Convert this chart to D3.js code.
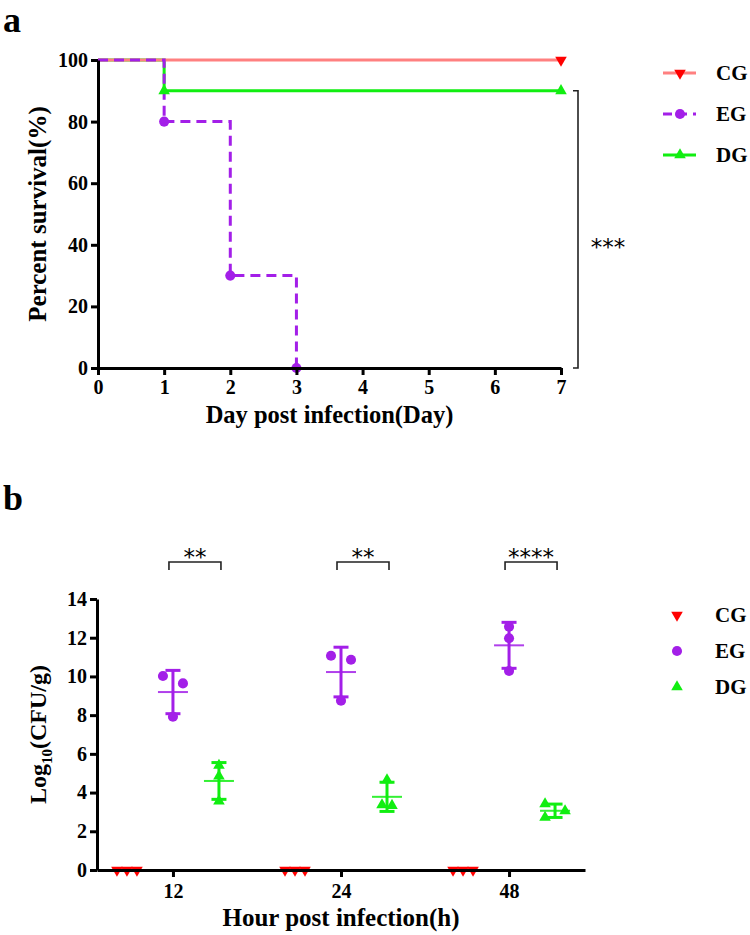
<!DOCTYPE html>
<html><head><meta charset="utf-8">
<script src="https://cdn.jsdelivr.net/npm/d3@7"></script>
<style>body{margin:0;background:#fff} svg{display:block}</style>
</head><body>
<script>
// ---------- data: panel a ----------
const days = [0,1,2,3,4,5,6,7];
const pctTicks = [0,20,40,60,80,100];
const cgSurv = [[0,100],[7,100]];
const egSurv = [[0,100],[1,80],[2,30],[3,0]];
const dgSurv = [[0,100],[1,90],[7,90]];
const survSig = "***";

// ---------- data: panel b ----------
const hours = ["12","24","48"];
const groupNames = ["CG","EG","DG"];
const cgCFU = [[0,0,0],[0,0,0],[0,0,0]];
const egCFU = [[10.02,9.64,7.92],[11.07,10.86,8.75],[12.57,11.97,10.28]];
const dgCFU = [[5.40,4.85,3.55],[4.65,3.36,3.33],[3.41,3.05,2.72]];
const cfuTicks = [0,2,4,6,8,10,12,14];
const cfuSig = ["**","**","****"];

// ---------- styles ----------
const COL = {CG:"#ff0000", CGline:"#ff8080", EG:"#a31fe8", DG:"#11ee11"};
const SERIF = "'Liberation Serif','Times New Roman',serif";
const SANS = "'DejaVu Sans',sans-serif";

const svg = d3.select("body").append("svg").attr("width",750).attr("height",935);

function marker(type){
  if(type==="EG") return d3.symbol(d3.symbolCircle,80)();
  return d3.symbol(d3.symbolTriangle,58)();
}
function drawMarker(g,type,x,y){
  g.append("path").attr("d",marker(type))
   .attr("transform",`translate(${x},${y})`+(type==="CG"?" rotate(180)":""))
   .attr("fill",COL[type]);
}
function styleAxis(g){
  g.select(".domain").attr("stroke","#000").attr("stroke-width",3);
  g.selectAll(".tick line").attr("stroke","#000").attr("stroke-width",3);
  g.selectAll(".tick text").attr("font-family",SERIF).attr("font-weight","bold")
   .attr("font-size",20).attr("fill","#000");
}

// ================= Panel a =================
svg.append("text").attr("x",3).attr("y",32).text("a")
  .attr("font-family",SERIF).attr("font-weight","bold").attr("font-size",36);

const xA = d3.scaleLinear([0,7],[98,561]);
const yA = d3.scaleLinear([0,100],[368,60]);
const gA = svg.append("g");
const stepLine = d3.line().x(d=>xA(d[0])).y(d=>yA(d[1])).curve(d3.curveStepAfter);

gA.append("path").datum(dgSurv).attr("d",stepLine).attr("fill","none")
  .attr("stroke",COL.DG).attr("stroke-width",3);
gA.append("path").datum(cgSurv).attr("d",stepLine).attr("fill","none")
  .attr("stroke",COL.CGline).attr("stroke-width",3);
gA.append("path").datum(egSurv).attr("d",stepLine).attr("fill","none")
  .attr("stroke",COL.EG).attr("stroke-width",3).attr("stroke-dasharray","10,6");

const axXA = svg.append("g").attr("transform",`translate(0,${yA(0)})`)
  .call(d3.axisBottom(xA).tickValues(days).tickSize(7).tickSizeOuter(0).tickPadding(5).tickFormat(d3.format("d")));
styleAxis(axXA);
const axYA = svg.append("g").attr("transform",`translate(${xA(0)},0)`)
  .call(d3.axisLeft(yA).tickValues(pctTicks).tickSize(7).tickSizeOuter(0).tickPadding(3));
styleAxis(axYA);

[["CG",cgSurv],["EG",egSurv],["DG",dgSurv]].forEach(([k,arr])=>{
  arr.slice(1).forEach(d=>drawMarker(gA,k,xA(d[0]),yA(d[1])));
});

// significance bracket a
const bx = xA(7)+17;
svg.append("path")
  .attr("d",`M${bx-5},${yA(90)}H${bx}V${yA(0)}H${bx-5}`)
  .attr("fill","none").attr("stroke","#222").attr("stroke-width",1.6);
svg.append("text").attr("x",bx+30).attr("y",(yA(90)+yA(0))/2+26)
  .attr("text-anchor","middle").attr("font-family",SANS).attr("font-size",23).text(survSig);

svg.append("text").attr("transform",`translate(46,${(yA(0)+yA(100))/2}) rotate(-90)`)
  .attr("text-anchor","middle").attr("font-family",SERIF).attr("font-weight","bold")
  .attr("font-size",25).text("Percent survival(%)");
svg.append("text").attr("x",(xA(0)+xA(7))/2).attr("y",423)
  .attr("text-anchor","middle").attr("font-family",SERIF).attr("font-weight","bold")
  .attr("font-size",24.5).text("Day post infection(Day)");

// legend a
const legA = svg.append("g");
[["CG","none"],["EG","9,6"],["DG","none"]].forEach(([k,dash],i)=>{
  const y = 73 + i*41;
  legA.append("line").attr("x1",663).attr("x2",696).attr("y1",y).attr("y2",y)
    .attr("stroke",k==="CG"?COL.CGline:COL[k]).attr("stroke-width",3)
    .attr("stroke-dasharray",dash);
  drawMarker(legA,k,680,y);
  legA.append("text").attr("x",716).attr("y",y).attr("dy","0.34em").text(k)
    .attr("font-family",SERIF).attr("font-weight","bold").attr("font-size",21);
});

// ================= Panel b =================
svg.append("text").attr("x",3).attr("y",510).text("b")
  .attr("font-family",SERIF).attr("font-weight","bold").attr("font-size",36);

const x0 = d3.scalePoint().domain(hours).range([97,585]).padding(0.452);
const x1 = d3.scalePoint().domain(groupNames).range([-46,46]);
const yB = d3.scaleLinear([0,14],[870,599]);
const gB = svg.append("g");
const series = {CG:cgCFU, EG:egCFU, DG:dgCFU};

function spread(vals){
  const idx = vals.map((v,i)=>i).sort((a,b)=>vals[b]-vals[a]);
  const offs = vals.map(()=>0);
  const clusters = []; let cur=[idx[0]];
  for(let k=1;k<idx.length;k++){
    if(yB(vals[idx[k]]) - yB(vals[idx[k-1]]) < 10) cur.push(idx[k]);
    else { clusters.push(cur); cur=[idx[k]]; }
  }
  clusters.push(cur);
  clusters.forEach(c=>{
    if(c.length<2) return;
    const span = yB(vals[c[c.length-1]]) - yB(vals[c[0]]);
    if(span<1) c.forEach((i,j)=>offs[i]=(j-(c.length-1)/2)*10);
    else c.forEach((i,j)=>offs[i]= j%2===0 ? -10 : 10);
  });
  return offs;
}

// error bars (mean ± SD)
hours.forEach((h,hi)=>{
  groupNames.forEach(k=>{
    const vals = series[k][hi];
    const m = d3.mean(vals), sd = d3.deviation(vals);
    const cx = x0(h)+x1(k);
    const c = COL[k];
    gB.append("line").attr("x1",cx).attr("x2",cx).attr("y1",yB(m+sd)).attr("y2",yB(m-sd))
      .attr("stroke",c).attr("stroke-width",3);
    [m+sd,m-sd].forEach(v=>gB.append("line").attr("x1",cx-7.5).attr("x2",cx+7.5)
      .attr("y1",yB(v)).attr("y2",yB(v)).attr("stroke",c).attr("stroke-width",3));
    gB.append("line").attr("x1",cx-15).attr("x2",cx+15).attr("y1",yB(m)).attr("y2",yB(m))
      .attr("stroke",c).attr("stroke-width",2).attr("opacity",0.85);
  });
});

const axXB = svg.append("g").attr("transform",`translate(0,${yB(0)})`)
  .call(d3.axisBottom(x0).tickSize(7).tickSizeOuter(0).tickPadding(7));
styleAxis(axXB);
const axYB = svg.append("g").attr("transform",`translate(97,0)`)
  .call(d3.axisLeft(yB).tickValues(cfuTicks).tickSize(7).tickSizeOuter(0).tickPadding(3));
styleAxis(axYB);

hours.forEach((h,hi)=>{
  groupNames.forEach(k=>{
    const vals = series[k][hi];
    const offs = spread(vals);
    vals.forEach((v,i)=>drawMarker(gB,k,x0(h)+x1(k)+offs[i],yB(v)));
  });
});

// significance brackets b
hours.forEach((h,hi)=>{
  const xl = x0(h)+x1("EG")-4, xr = x0(h)+x1("DG")+2;
  const yb = yB(14)-37;
  svg.append("path").attr("d",`M${xl},${yb+8}V${yb}H${xr}V${yb+8}`)
    .attr("fill","none").attr("stroke","#222").attr("stroke-width",1.6);
  svg.append("text").attr("x",(xl+xr)/2).attr("y",yb+3)
    .attr("text-anchor","middle").attr("font-family",SANS).attr("font-size",23).text(cfuSig[hi]);
});

// axis titles b
const yt = svg.append("text").attr("transform",`translate(46,${(yB(0)+yB(14))/2}) rotate(-90)`)
  .attr("text-anchor","middle").attr("font-family",SERIF).attr("font-weight","bold").attr("font-size",24);
yt.append("tspan").text("Log");
yt.append("tspan").text("10").attr("font-size",15).attr("dy",6);
yt.append("tspan").text("(CFU/g)").attr("dy",-6);
svg.append("text").attr("x",(97+585)/2).attr("y",926)
  .attr("text-anchor","middle").attr("font-family",SERIF).attr("font-weight","bold")
  .attr("font-size",25).text("Hour post infection(h)");

// legend b
const legB = svg.append("g");
groupNames.forEach((k,i)=>{
  const y = 615 + i*36;
  drawMarker(legB,k,677,y);
  legB.append("text").attr("x",715).attr("y",y).attr("dy","0.34em").text(k)
    .attr("font-family",SERIF).attr("font-weight","bold").attr("font-size",21);
});
</script>
</body></html>
